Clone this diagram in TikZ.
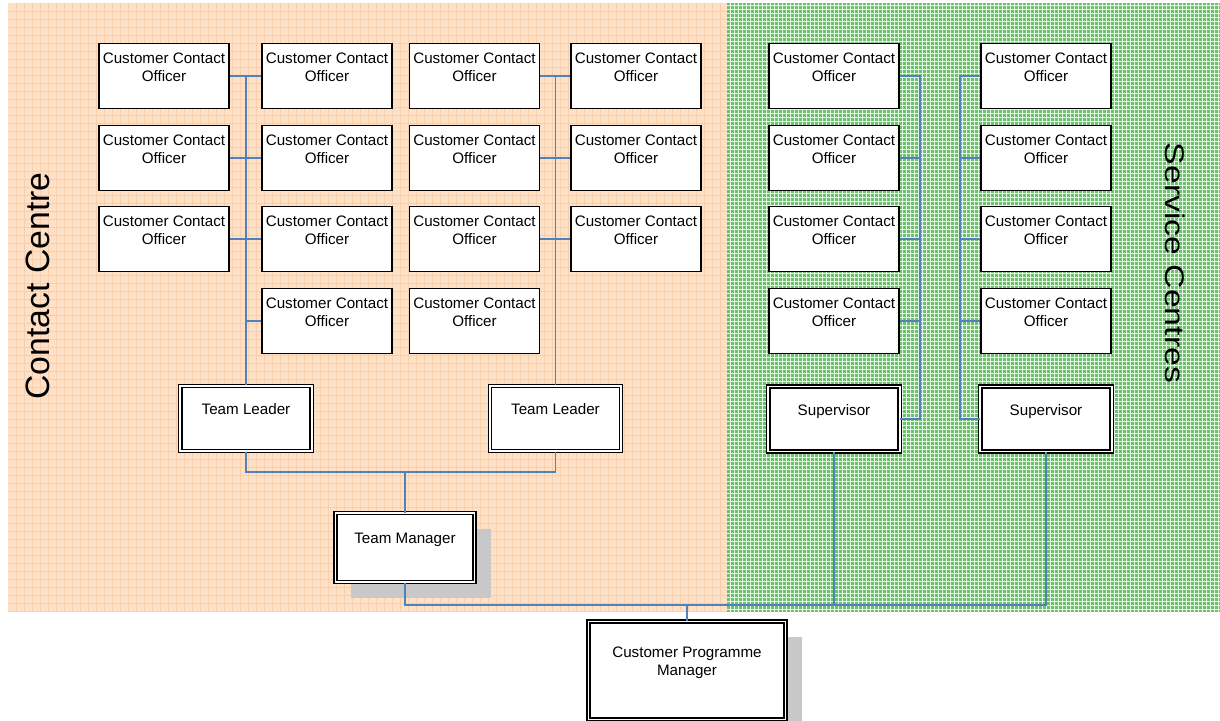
\documentclass[tikz,border=0pt]{standalone}
\usepackage{fontspec}
\setmainfont{Liberation Sans}
\usetikzlibrary{shadows}

\definecolor{ccfill}{RGB}{253,224,198}
\definecolor{ccgrid}{RGB}{249,206,170}
\definecolor{scfill}{RGB}{112,190,112}
\definecolor{scgrid}{RGB}{228,245,228}
\definecolor{linkblue}{RGB}{79,129,189}
\definecolor{shadowgrey}{RGB}{200,200,200}

\newcommand{\cco}{Customer Contact\\Officer\\\mbox{}}

\begin{document}
\begin{tikzpicture}[
            x=0.025cm, y=-0.025cm,
            officer/.style={draw, line width=0.9pt, fill=white, minimum width=3.25cm, minimum height=1.625cm, align=center, inner sep=0pt, font=\fontsize{10.8}{13}\selectfont},
            lead/.style={officer, line width=0.9pt, double=white, double distance=1.3pt, minimum width=3.28cm},
            boss/.style={lead, drop shadow={shadow xshift=0.4cm, shadow yshift=-0.4cm, fill=shadowgrey, opacity=1}},
            link/.style={draw=linkblue, line width=0.9pt},
            area/.style={font=\fontsize{24}{28}\selectfont}
        ]
        \useasboundingbox (0,0) rectangle (1220,721);

        % 1. Column x-positions
        \def\colA{164}
        \def\colB{327}
        \def\colC{474.5}
        \def\colD{636}
        \def\colE{834}
        \def\colF{1046}

        % 2. Row y-positions
        \def\rowA{76}
        \def\rowB{158}
        \def\rowC{239}
        \def\rowD{321}
        \def\rowLead{419}

        % 3. Background areas
        \fill[ccfill] (8,3) rectangle (727,612);
        \foreach \gx in {16,24,...,720} \draw[ccgrid, line width=0.5pt] (\gx,3) -- (\gx,612);
        \foreach \gy in {11,19,...,611} \draw[ccgrid, line width=0.5pt] (8,\gy) -- (727,\gy);
        \fill[scfill] (727,3) rectangle (1220,612);
        \foreach \gx in {730,734,...,1218} \draw[scgrid, line width=0.5pt] (\gx,3) -- (\gx,612);
        \foreach \gy in {5,9,...,611} \draw[scgrid, line width=0.5pt] (727,\gy) -- (1220,\gy);

        % 4. Area titles
        \node[area, rotate=90, anchor=base] (contact) at (49,286) {Contact Centre};
        \node[area, rotate=-90, anchor=base, yscale=0.8, transform shape] (service) at (1165,263) {Service Centres};

        % --- CONTACT CENTRE ---
        \node[officer] (a1) at (\colA,\rowA) {\cco};
        \node[officer] (a2) at (\colA,\rowB) {\cco};
        \node[officer] (a3) at (\colA,\rowC) {\cco};

        \node[officer] (b1) at (\colB,\rowA) {\cco};
        \node[officer] (b2) at (\colB,\rowB) {\cco};
        \node[officer] (b3) at (\colB,\rowC) {\cco};
        \node[officer] (b4) at (\colB,\rowD) {\cco};

        \node[officer] (c1) at (\colC,\rowA) {\cco};
        \node[officer] (c2) at (\colC,\rowB) {\cco};
        \node[officer] (c3) at (\colC,\rowC) {\cco};
        \node[officer] (c4) at (\colC,\rowD) {\cco};

        \node[officer] (d1) at (\colD,\rowA) {\cco};
        \node[officer] (d2) at (\colD,\rowB) {\cco};
        \node[officer] (d3) at (\colD,\rowC) {\cco};

        \node[lead] (tl1) at (246,418.5) {Team Leader\\\mbox{}};
        \node[lead] (tl2) at (555.5,418.5) {Team Leader\\\mbox{}};

        \node[boss, minimum width=3.475cm, minimum height=1.725cm] (tm) at (405,547.7) {Team Manager\\\mbox{}};

        % --- SERVICE CENTRES ---
        \node[officer] (e1) at (\colE,\rowA) {\cco};
        \node[officer] (e2) at (\colE,\rowB) {\cco};
        \node[officer] (e3) at (\colE,\rowC) {\cco};
        \node[officer] (e4) at (\colE,\rowD) {\cco};

        \node[officer] (f1) at (\colF,\rowA) {\cco};
        \node[officer] (f2) at (\colF,\rowB) {\cco};
        \node[officer] (f3) at (\colF,\rowC) {\cco};
        \node[officer] (f4) at (\colF,\rowD) {\cco};

        \node[lead] (s1) at (\colE,\rowLead) {Supervisor\\\mbox{}};
        \node[lead] (s2) at (\colF,\rowLead) {Supervisor\\\mbox{}};

        % --- PROGRAMME MANAGER ---
        \node[boss, minimum width=4.925cm, minimum height=2.45cm] (cpm) at (687,670.5) {Customer Programme\\Manager\\\mbox{}};

        % Junction points
        \coordinate (bus) at (405,472);
        \coordinate (base) at (\colF,605);
        \coordinate (jE) at (920,0);
        \coordinate (jF) at (960,0);

        % Team leader trunks
        \draw[link] (tl1.north) -- (tl1.north |- a1.east);
        \draw[link] (a1.east) -- (b1.west);
        \draw[link] (a2.east) -- (b2.west);
        \draw[link] (a3.east) -- (b3.west);
        \draw[link] (tl1.north |- b4.west) -- (b4.west);

        \draw[link] (tl2.north) -- (tl2.north |- c1.east);
        \draw[link] (c1.east) -- (d1.west);
        \draw[link] (c2.east) -- (d2.west);
        \draw[link] (c3.east) -- (d3.west);

        % Team leaders to manager
        \draw[link] (tl1.south) |- (bus) -| (tl2.south);
        \draw[link] (tm.north) -- (bus);

        % Supervisor trunks
        \draw[link] (e1.east) -- (e1.east -| jE) -- (s1.east -| jE) -- (s1.east);
        \draw[link] (e2.east) -- (e2.east -| jE);
        \draw[link] (e3.east) -- (e3.east -| jE);
        \draw[link] (e4.east) -- (e4.east -| jE);

        \draw[link] (f1.west) -- (f1.west -| jF) -- (s2.west -| jF) -- (s2.west);
        \draw[link] (f2.west) -- (f2.west -| jF);
        \draw[link] (f3.west) -- (f3.west -| jF);
        \draw[link] (f4.west) -- (f4.west -| jF);

        % Bottom line to programme manager
        \draw[link] (tm.south) |- (base) -- (s2.south);
        \draw[link] (s1.south) -- (s1.south |- base);
        \draw[link] (cpm.north) -- (cpm.north |- base);

        \end{tikzpicture}
\end{document}
